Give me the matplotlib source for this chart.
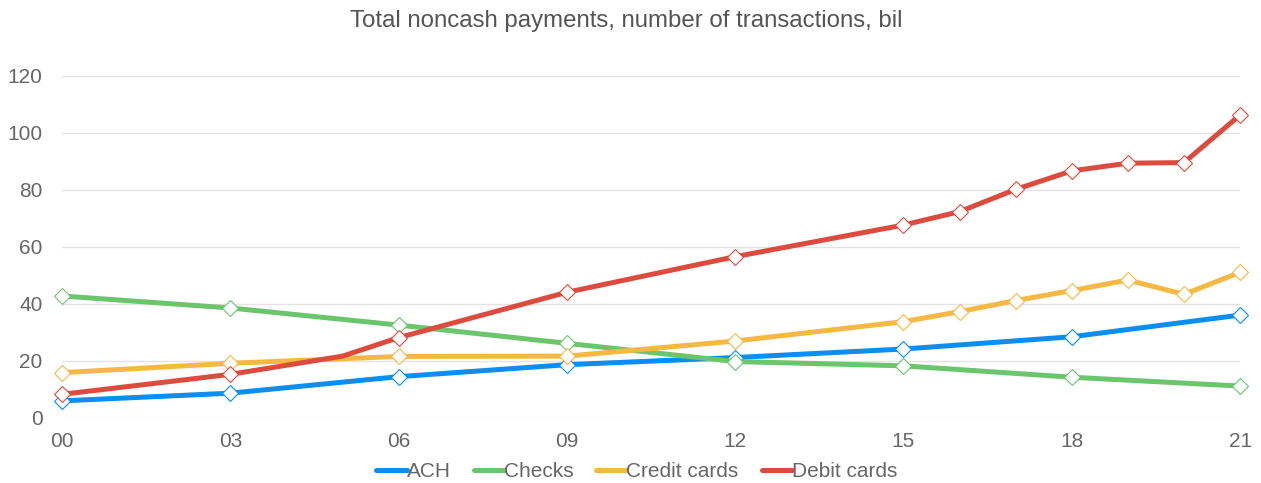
import matplotlib
matplotlib.use("Agg")
import matplotlib.pyplot as plt

plt.rcParams['font.family'] = ['Liberation Sans', 'DejaVu Sans']

# Noncash payments, billions of transactions (years since 2000)
ach_years = [0, 3, 6, 9, 12, 15, 18, 21]
ach_vals = [5.9, 8.6, 14.4, 18.6, 21.1, 24.1, 28.4, 36.0]

checks_years = [0, 3, 6, 9, 12, 15, 18, 21]
checks_vals = [42.7, 38.5, 32.5, 26.1, 19.7, 18.2, 14.2, 11.1]

credit_years = [0, 3, 6, 9, 12, 15, 16, 17, 18, 19, 20, 21]
credit_vals = [15.8, 19.1, 21.5, 21.6, 26.9, 33.7, 37.2, 41.1, 44.6, 48.3, 43.3, 51.0]

debit_years = [0, 3, 5, 6, 9, 12, 15, 16, 17, 18, 19, 20, 21]
debit_vals = [8.2, 15.2, 21.6, 28.1, 44.0, 56.5, 67.6, 72.3, 80.1, 86.6, 89.3, 89.5, 106.2]
debit_marked = [0, 1, 3, 4, 5, 6, 7, 8, 9, 10, 11, 12]  # 2005 has no marker

tick_years = [0, 3, 6, 9, 12, 15, 18, 21]
tick_labels = ['00', '03', '06', '09', '12', '15', '18', '21']

series = [
    ('ACH', ach_years, ach_vals, '#0a8ef2', None),
    ('Checks', checks_years, checks_vals, '#6ac56b', None),
    ('Credit cards', credit_years, credit_vals, '#f5b843', None),
    ('Debit cards', debit_years, debit_vals, '#dc4b3e', debit_marked),
]

text_color = '#666666'

fig = plt.figure(figsize=(12.61, 4.83), dpi=100)
ax = fig.add_axes([0.0492, 0.1352, 0.9342, 0.7081])

handles = []
for name, xs, ys, color, mk in series:
    ax.plot(xs, ys, color=color, lw=3.6, marker='D', markersize=8,
            markerfacecolor='white', markeredgecolor=color,
            markeredgewidth=0.8, markevery=mk, clip_on=False,
            solid_joinstyle='round', label=name)
    handles.append(plt.Line2D([], [], color=color, lw=3.6, solid_capstyle='round'))

ax.set_xlim(0, 21)
ax.set_ylim(0, 120)
ax.set_yticks(range(0, 121, 20))
ax.set_xticks(tick_years)
ax.set_xticklabels(tick_labels)
ax.yaxis.grid(True, color='#e4e4e4', lw=1)
ax.set_axisbelow(True)
for s in ax.spines.values():
    s.set_visible(False)
ax.tick_params(length=0, labelsize=15, labelcolor=text_color)
ax.tick_params(axis='y', pad=14)
ax.tick_params(axis='x', pad=10)

fig.suptitle('Total noncash payments, number of transactions, bil',
             x=0.497, y=0.98, fontsize=17.3, color='#555555')

fig.legend(handles, [s[0] for s in series], loc='center', bbox_to_anchor=(0.505, 0.024),
           ncol=4, frameon=False, fontsize=15, labelcolor=text_color,
           handlelength=1.45, handletextpad=0.0, columnspacing=1.1)

fig.savefig('out.png', dpi=100)
